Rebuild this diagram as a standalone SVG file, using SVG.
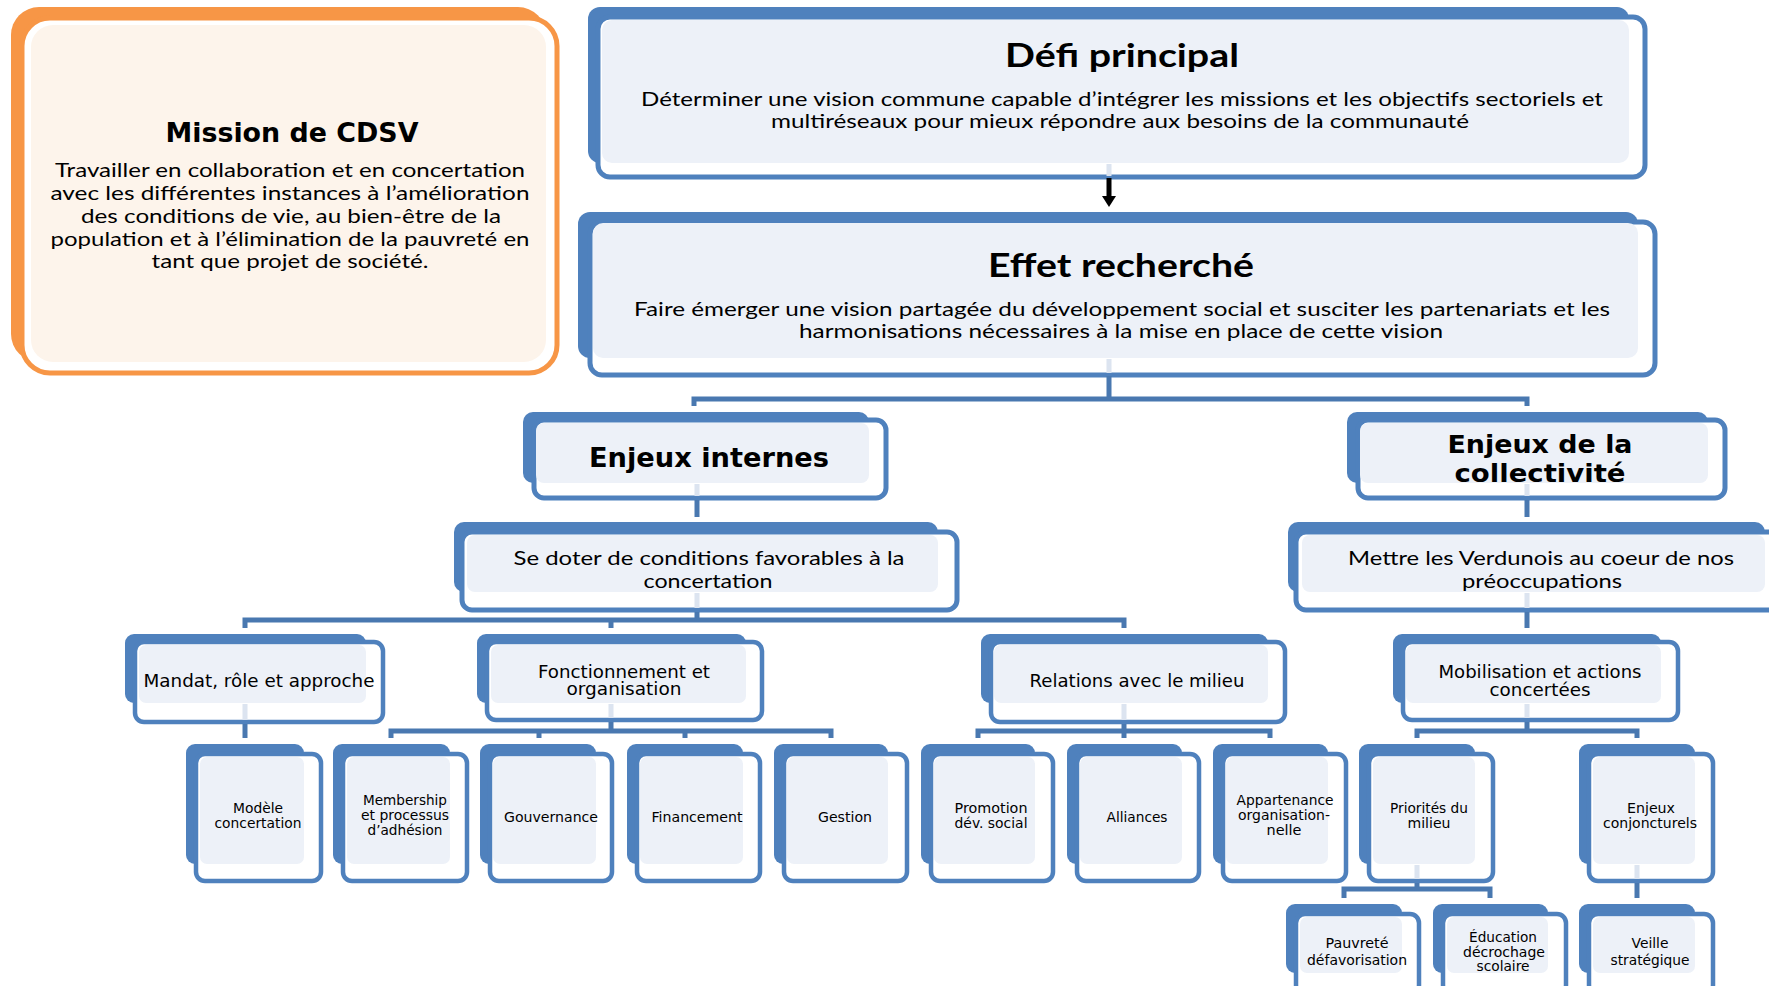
<svg xmlns="http://www.w3.org/2000/svg" width="1769" height="986" viewBox="0 0 1769 986">
<style>
.bk{fill:#4F81BD}
.fr{fill:#fff;stroke:#4F81BD;stroke-width:5}
.fs{fill:#fff;stroke:#4F81BD;stroke-width:4.5}
.pl{fill:#EDF1F8}
.obk{fill:#F79646}
.ofr{fill:#fff;stroke:#F79646;stroke-width:5}
.opl{fill:#FDF4EB}
.cn{stroke:#4978B0;stroke-width:5;fill:none}
.fa{stroke:#DCE4F0;stroke-width:5;fill:none}
.ar{stroke:#000;stroke-width:5;fill:none}
text{fill:#000;text-anchor:middle}
.tc{font-family:Lato,"Liberation Sans",sans-serif;font-weight:bold;font-size:32px}
.tv{font-family:"DejaVu Sans",Verdana,sans-serif;font-weight:bold}
.bc{font-family:Lato,"Liberation Sans",sans-serif;font-size:20px}
.l3{font-family:"DejaVu Sans",Verdana,sans-serif;font-size:17px}
.l4{font-family:"DejaVu Sans",Verdana,sans-serif;font-size:14.5px}
</style>
<defs>
<marker id="ah" markerUnits="userSpaceOnUse" markerWidth="11" markerHeight="14" refX="0" refY="7" orient="auto">
<path d="M0,0 L11,7 L0,14 z" fill="#000"/>
</marker>
</defs>

<g id="mission">
<rect class="obk" x="11" y="7" width="535" height="355" rx="28"/>
<rect class="ofr" x="22" y="18" width="535" height="355" rx="28"/>
<rect class="opl" x="31" y="25" width="515" height="337" rx="22"/>
<text class="tv" x="292" y="142" font-size="27" textLength="253" lengthAdjust="spacingAndGlyphs">Mission de CDSV</text>
<text class="bc" x="290" y="177" textLength="470" lengthAdjust="spacingAndGlyphs">Travailler en collaboration et en concertation</text>
<text class="bc" x="290" y="200" textLength="479" lengthAdjust="spacingAndGlyphs">avec les différentes instances à l’amélioration</text>
<text class="bc" x="291" y="223" textLength="420" lengthAdjust="spacingAndGlyphs">des conditions de vie, au bien-être de la</text>
<text class="bc" x="290" y="246" textLength="479" lengthAdjust="spacingAndGlyphs">population et à l’élimination de la pauvreté en</text>
<text class="bc" x="290" y="268" textLength="277" lengthAdjust="spacingAndGlyphs">tant que projet de société.</text>
</g>

<g id="defi">
<rect class="bk" x="588" y="7" width="1041" height="156" rx="12"/>
<rect class="fr" x="598" y="17" width="1047" height="160" rx="12"/>
<rect class="pl" x="602" y="20" width="1027" height="143" rx="10"/>
<text class="tc" x="1122" y="67" textLength="234" lengthAdjust="spacingAndGlyphs">Défi principal</text>
<text class="bc" x="1122" y="106" textLength="962" lengthAdjust="spacingAndGlyphs">Déterminer une vision commune capable d’intégrer les missions et les objectifs sectoriels et</text>
<text class="bc" x="1120" y="128" textLength="698" lengthAdjust="spacingAndGlyphs">multiréseaux pour mieux répondre aux besoins de la communauté</text>
</g>

<g id="effet">
<rect class="bk" x="578" y="212" width="1060" height="146" rx="12"/>
<rect class="fr" x="590" y="222" width="1065" height="153" rx="12"/>
<rect class="pl" x="593" y="223" width="1045" height="135" rx="10"/>
<text class="tc" x="1121" y="277" textLength="266" lengthAdjust="spacingAndGlyphs">Effet recherché</text>
<text class="bc" x="1122" y="316" textLength="976" lengthAdjust="spacingAndGlyphs">Faire émerger une vision partagée du développement social et susciter les partenariats et les</text>
<text class="bc" x="1121" y="338" textLength="644" lengthAdjust="spacingAndGlyphs">harmonisations nécessaires à la mise en place de cette vision</text>
</g>

<g id="enjeux-internes">
<rect class="bk" x="523" y="412" width="346" height="71" rx="10"/>
<rect class="fr" x="534" y="420" width="352" height="78" rx="10"/>
<rect class="pl" x="536" y="423" width="333" height="60" rx="8"/>
<text class="tv" x="709" y="467" font-size="26" textLength="240" lengthAdjust="spacingAndGlyphs">Enjeux internes</text>
</g>

<g id="enjeux-collectivite">
<rect class="bk" x="1347" y="412" width="361" height="71" rx="10"/>
<rect class="fr" x="1358" y="420" width="367" height="78" rx="10"/>
<rect class="pl" x="1360" y="423" width="348" height="60" rx="8"/>
<text class="tv" x="1540" y="453" font-size="25" textLength="185" lengthAdjust="spacingAndGlyphs">Enjeux de la</text>
<text class="tv" x="1540" y="482" font-size="25" textLength="171" lengthAdjust="spacingAndGlyphs">collectivité</text>
</g>

<g id="se-doter">
<rect class="bk" x="454" y="522" width="484" height="70" rx="10"/>
<rect class="fr" x="462" y="532" width="495" height="78" rx="10"/>
<rect class="pl" x="467" y="535" width="471" height="57" rx="8"/>
<text class="bc" x="709" y="565" textLength="391" lengthAdjust="spacingAndGlyphs">Se doter de conditions favorables à la</text>
<text class="bc" x="708" y="588" textLength="129" lengthAdjust="spacingAndGlyphs">concertation</text>
</g>

<g id="mettre">
<rect class="bk" x="1288" y="522" width="477" height="70" rx="10"/>
<rect class="fr" x="1296" y="532" width="488" height="78" rx="10"/>
<rect class="pl" x="1302" y="535" width="463" height="57" rx="8"/>
<text class="bc" x="1541" y="565" textLength="386" lengthAdjust="spacingAndGlyphs">Mettre les Verdunois au coeur de nos</text>
<text class="bc" x="1542" y="588" textLength="160" lengthAdjust="spacingAndGlyphs">préoccupations</text>
</g>

<g id="mandat">
<rect class="bk" x="125" y="634" width="241" height="69" rx="9"/>
<rect class="fs" x="135" y="642" width="248" height="80" rx="9"/>
<rect class="pl" x="139" y="645" width="227" height="58" rx="7"/>
<text class="l3" x="259" y="687" textLength="231" lengthAdjust="spacingAndGlyphs">Mandat, rôle et approche</text>
</g>

<g id="fonctionnement">
<rect class="bk" x="477" y="634" width="269" height="69" rx="9"/>
<rect class="fs" x="487" y="642" width="275" height="78" rx="9"/>
<rect class="pl" x="491" y="645" width="255" height="58" rx="7"/>
<text class="l3" x="624" y="678" textLength="172" lengthAdjust="spacingAndGlyphs">Fonctionnement et</text>
<text class="l3" x="624" y="695" textLength="115" lengthAdjust="spacingAndGlyphs">organisation</text>
</g>

<g id="relations">
<rect class="bk" x="981" y="634" width="287" height="69" rx="9"/>
<rect class="fs" x="991" y="642" width="294" height="80" rx="9"/>
<rect class="pl" x="994" y="645" width="274" height="58" rx="7"/>
<text class="l3" x="1137" y="687" textLength="215" lengthAdjust="spacingAndGlyphs">Relations avec le milieu</text>
</g>

<g id="mobilisation">
<rect class="bk" x="1393" y="634" width="268" height="69" rx="9"/>
<rect class="fs" x="1403" y="642" width="275" height="78" rx="9"/>
<rect class="pl" x="1406" y="645" width="255" height="58" rx="7"/>
<text class="l3" x="1540" y="678" textLength="203" lengthAdjust="spacingAndGlyphs">Mobilisation et actions</text>
<text class="l3" x="1540" y="696" textLength="101" lengthAdjust="spacingAndGlyphs">concertées</text>
</g>

<g id="modele">
<rect class="bk" x="186" y="744" width="118" height="120" rx="9"/>
<rect class="fs" x="196" y="754" width="125" height="127" rx="9"/>
<rect class="pl" x="200" y="757" width="104" height="107" rx="7"/>
<text class="l4" x="258" y="813" textLength="50" lengthAdjust="spacingAndGlyphs">Modèle</text>
<text class="l4" x="258" y="828" textLength="87" lengthAdjust="spacingAndGlyphs">concertation</text>
</g>

<g id="membership">
<rect class="bk" x="333" y="744" width="117" height="120" rx="9"/>
<rect class="fs" x="343" y="754" width="124" height="127" rx="9"/>
<rect class="pl" x="347" y="757" width="103" height="107" rx="7"/>
<text class="l4" x="405" y="805" textLength="84" lengthAdjust="spacingAndGlyphs">Membership</text>
<text class="l4" x="405" y="820" textLength="88" lengthAdjust="spacingAndGlyphs">et processus</text>
<text class="l4" x="405" y="835" textLength="75" lengthAdjust="spacingAndGlyphs">d’adhésion</text>
</g>

<g id="gouvernance">
<rect class="bk" x="480" y="744" width="116" height="120" rx="9"/>
<rect class="fs" x="490" y="754" width="122" height="127" rx="9"/>
<rect class="pl" x="493" y="757" width="103" height="107" rx="7"/>
<text class="l4" x="551" y="822" textLength="94" lengthAdjust="spacingAndGlyphs">Gouvernance</text>
</g>

<g id="financement">
<rect class="bk" x="627" y="744" width="116" height="120" rx="9"/>
<rect class="fs" x="637" y="754" width="123" height="127" rx="9"/>
<rect class="pl" x="640" y="757" width="103" height="107" rx="7"/>
<text class="l4" x="697" y="822" textLength="91" lengthAdjust="spacingAndGlyphs">Financement</text>
</g>

<g id="gestion">
<rect class="bk" x="774" y="744" width="114" height="120" rx="9"/>
<rect class="fs" x="784" y="754" width="123" height="127" rx="9"/>
<rect class="pl" x="787" y="757" width="101" height="107" rx="7"/>
<text class="l4" x="845" y="822" textLength="54" lengthAdjust="spacingAndGlyphs">Gestion</text>
</g>

<g id="promotion">
<rect class="bk" x="921" y="744" width="114" height="120" rx="9"/>
<rect class="fs" x="931" y="754" width="122" height="127" rx="9"/>
<rect class="pl" x="934" y="757" width="101" height="107" rx="7"/>
<text class="l4" x="991" y="813" textLength="73" lengthAdjust="spacingAndGlyphs">Promotion</text>
<text class="l4" x="991" y="828" textLength="73" lengthAdjust="spacingAndGlyphs">dév. social</text>
</g>

<g id="alliances">
<rect class="bk" x="1067" y="744" width="115" height="120" rx="9"/>
<rect class="fs" x="1077" y="754" width="122" height="127" rx="9"/>
<rect class="pl" x="1080" y="757" width="102" height="107" rx="7"/>
<text class="l4" x="1137" y="822" textLength="61" lengthAdjust="spacingAndGlyphs">Alliances</text>
</g>

<g id="appartenance">
<rect class="bk" x="1213" y="744" width="115" height="120" rx="9"/>
<rect class="fs" x="1223" y="754" width="123" height="127" rx="9"/>
<rect class="pl" x="1226" y="757" width="102" height="107" rx="7"/>
<text class="l4" x="1285" y="805" textLength="97" lengthAdjust="spacingAndGlyphs">Appartenance</text>
<text class="l4" x="1284" y="820" textLength="92" lengthAdjust="spacingAndGlyphs">organisation-</text>
<text class="l4" x="1284" y="835" textLength="35" lengthAdjust="spacingAndGlyphs">nelle</text>
</g>

<g id="priorites">
<rect class="bk" x="1359" y="744" width="116" height="120" rx="9"/>
<rect class="fs" x="1369" y="754" width="124" height="127" rx="9"/>
<rect class="pl" x="1373" y="757" width="102" height="107" rx="7"/>
<text class="l4" x="1429" y="813" textLength="78" lengthAdjust="spacingAndGlyphs">Priorités du</text>
<text class="l4" x="1429" y="828" textLength="43" lengthAdjust="spacingAndGlyphs">milieu</text>
</g>

<g id="enjeux-conjoncturels">
<rect class="bk" x="1579" y="744" width="116" height="120" rx="9"/>
<rect class="fs" x="1589" y="754" width="124" height="127" rx="9"/>
<rect class="pl" x="1593" y="757" width="102" height="107" rx="7"/>
<text class="l4" x="1651" y="813" textLength="48" lengthAdjust="spacingAndGlyphs">Enjeux</text>
<text class="l4" x="1650" y="828" textLength="94" lengthAdjust="spacingAndGlyphs">conjoncturels</text>
</g>

<g id="pauvrete">
<rect class="bk" x="1286" y="904" width="116" height="69" rx="9"/>
<rect class="fs" x="1296" y="914" width="123" height="80" rx="9"/>
<rect class="pl" x="1300" y="917" width="102" height="56" rx="7"/>
<text class="l4" x="1357" y="948" textLength="63" lengthAdjust="spacingAndGlyphs">Pauvreté</text>
<text class="l4" x="1357" y="965" textLength="100" lengthAdjust="spacingAndGlyphs">défavorisation</text>
</g>

<g id="education">
<rect class="bk" x="1433" y="904" width="115" height="69" rx="9"/>
<rect class="fs" x="1443" y="914" width="123" height="80" rx="9"/>
<rect class="pl" x="1447" y="917" width="101" height="56" rx="7"/>
<text class="l4" x="1503" y="942" textLength="68" lengthAdjust="spacingAndGlyphs">Éducation</text>
<text class="l4" x="1504" y="957" textLength="82" lengthAdjust="spacingAndGlyphs">décrochage</text>
<text class="l4" x="1503" y="971" textLength="53" lengthAdjust="spacingAndGlyphs">scolaire</text>
</g>

<g id="veille">
<rect class="bk" x="1579" y="904" width="116" height="69" rx="9"/>
<rect class="fs" x="1589" y="914" width="124" height="80" rx="9"/>
<rect class="pl" x="1593" y="917" width="102" height="56" rx="7"/>
<text class="l4" x="1650" y="948" textLength="37" lengthAdjust="spacingAndGlyphs">Veille</text>
<text class="l4" x="1650" y="965" textLength="79" lengthAdjust="spacingAndGlyphs">stratégique</text>
</g>

<g id="connectors">
<path class="fa" d="M1109,164 V176 M1109,359 V373 M697,484 V496 M1527,484 V496 M697,593 V608 M1527,593 V608 M245,704 V720 M611,704 V718 M1124,704 V720 M1527,704 V718 M1417,865 V879 M1637,865 V879"/>
<line class="ar" x1="1109" y1="178" x2="1109" y2="196" marker-end="url(#ah)"/>
<path class="cn" d="M1109,376 V399 M694,406 V399 H1527 V406"/>
<path class="cn" d="M697,500 V517"/>
<path class="cn" d="M1527,500 V517"/>
<path class="cn" d="M697,612 V620 M245,628 V620 H1124 V628 M611,620 V628"/>
<path class="cn" d="M1527,612 V628"/>
<path class="cn" d="M245,724 V738"/>
<path class="cn" d="M611,722 V731 M391,738 V731 H831 V738 M539,731 V738 M685,731 V738"/>
<path class="cn" d="M1124,724 V738 M978,738 V731 H1270 V738"/>
<path class="cn" d="M1527,722 V731 M1417,738 V731 H1637 V738"/>
<path class="cn" d="M1417,883 V889 M1344,898 V889 H1490 V898"/>
<path class="cn" d="M1637,883 V898"/>
</g>
</svg>
